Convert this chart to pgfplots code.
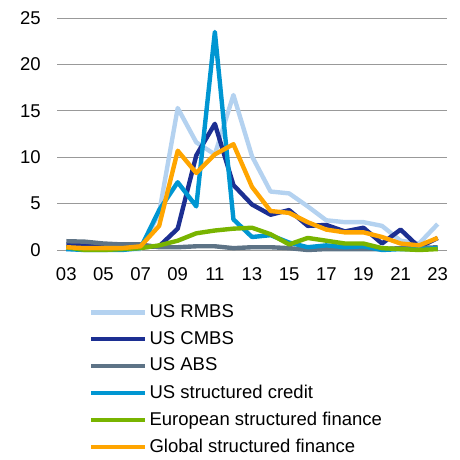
\documentclass[border=0pt]{standalone}
\usepackage{pgfplots}
\pgfplotsset{compat=1.18}
\usepackage{fontspec}
\setmainfont{Liberation Sans}
\definecolor{crmbs}{HTML}{B4D2F0}
\definecolor{ccmbs}{HTML}{1C2F92}
\definecolor{cabs}{HTML}{5D7386}
\definecolor{ccred}{HTML}{0096D2}
\definecolor{ceur}{HTML}{78B400}
\definecolor{cglob}{HTML}{FFA500}
\begin{document}
\fontsize{18.5pt}{22pt}\selectfont
\begin{tikzpicture}
\path[use as bounding box] (0,0) rectangle (460pt,459pt);
\begin{axis}[
  at={(57pt,209pt)}, anchor=south west,
  scale only axis, width=390pt, height=232pt,
  xmin=2002.5, xmax=2023.5, ymin=0, ymax=25,
  clip=false,
  axis line style={draw=none},
  major tick length=0pt,
  xtick={2003,2005,...,2023},
  xticklabels={03,05,07,09,11,13,15,17,19,21,23},
  ytick={0,5,10,15,20,25},
  ymajorgrids, grid style={color=black!40, line width=0.9pt},
  tick label style={font=\fontsize{18.5pt}{22pt}\selectfont},
  /pgf/number format/assume math mode=true,
  yticklabel style={xshift=-10pt},
  xticklabel style={yshift=-11pt},
  every axis plot/.append style={line width=4.4pt, line join=round, no markers},
  legend cell align=left,
  legend style={at={(0.082,-0.226)}, anchor=north west, draw=none, fill=none,
    font=\fontsize{18.5pt}{22pt}\selectfont, row sep=7pt, inner sep=0pt},
  legend image code/.code={\draw[#1, line width=4.4pt] (0pt,0pt) -- (54pt,0pt);},
]
\addplot[crmbs] coordinates {(2003,0.1)(2004,0.1)(2005,0.1)(2006,0.1)(2007,0.1)(2008,4.0)(2009,15.3)(2010,11.6)(2011,10.3)(2012,16.7)(2013,10.1)(2014,6.3)(2015,6.1)(2016,4.7)(2017,3.2)(2018,3.0)(2019,3.0)(2020,2.6)(2021,1.0)(2022,0.7)(2023,2.8)};
\addlegendentry{US RMBS}
\addplot[ccmbs] coordinates {(2003,0.6)(2004,0.5)(2005,0.4)(2006,0.3)(2007,0.3)(2008,0.4)(2009,2.3)(2010,10.2)(2011,13.6)(2012,7.0)(2013,4.9)(2014,3.8)(2015,4.3)(2016,2.6)(2017,2.7)(2018,2.0)(2019,2.4)(2020,0.7)(2021,2.2)(2022,0.3)(2023,1.3)};
\addlegendentry{US CMBS}
\addplot[cabs] coordinates {(2003,0.95)(2004,0.9)(2005,0.7)(2006,0.6)(2007,0.6)(2008,0.3)(2009,0.3)(2010,0.4)(2011,0.4)(2012,0.2)(2013,0.3)(2014,0.3)(2015,0.2)(2016,0.0)(2017,0.1)(2018,0.1)(2019,0.1)(2020,0.1)(2021,0.2)(2022,0.2)(2023,0.3)};
\addlegendentry{US ABS}
\addplot[ccred] coordinates {(2003,0.1)(2004,0.0)(2005,0.0)(2006,0.0)(2007,0.2)(2008,4.3)(2009,7.3)(2010,4.7)(2011,23.5)(2012,3.3)(2013,1.4)(2014,1.6)(2015,0.8)(2016,0.3)(2017,0.5)(2018,0.3)(2019,0.4)(2020,0.0)(2021,0.1)(2022,0.1)(2023,0.2)};
\addlegendentry{US structured credit}
\addplot[ceur] coordinates {(2003,0.3)(2004,0.0)(2005,0.0)(2006,0.1)(2007,0.2)(2008,0.5)(2009,1.0)(2010,1.8)(2011,2.1)(2012,2.3)(2013,2.4)(2014,1.7)(2015,0.6)(2016,1.3)(2017,1.0)(2018,0.7)(2019,0.7)(2020,0.2)(2021,0.1)(2022,0.0)(2023,0.1)};
\addlegendentry{European structured finance}
\addplot[cglob] coordinates {(2003,0.3)(2004,0.2)(2005,0.2)(2006,0.2)(2007,0.4)(2008,2.6)(2009,10.7)(2010,8.3)(2011,10.3)(2012,11.4)(2013,6.8)(2014,4.2)(2015,4.0)(2016,3.0)(2017,2.2)(2018,1.9)(2019,1.9)(2020,1.4)(2021,0.7)(2022,0.5)(2023,1.3)};
\addlegendentry{Global structured finance}
\end{axis}
\end{tikzpicture}
\end{document}
